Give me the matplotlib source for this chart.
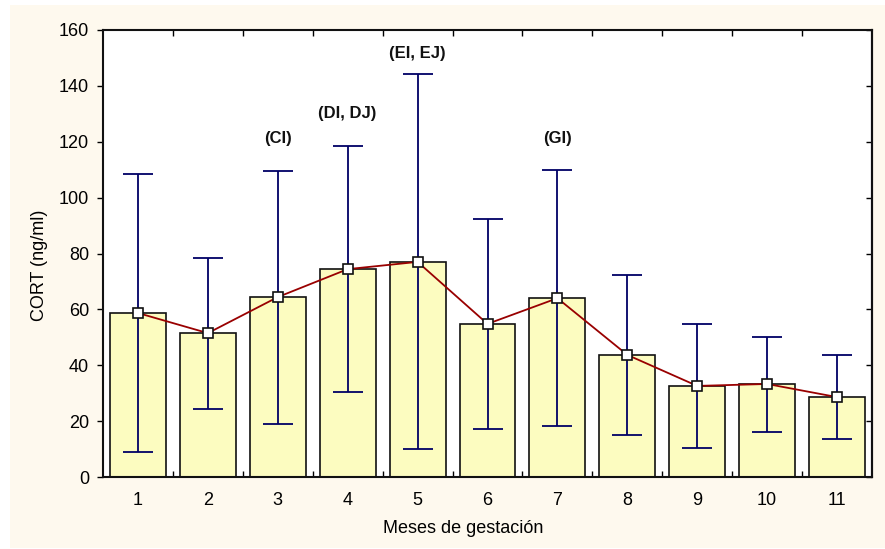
import matplotlib
matplotlib.use("Agg")
import matplotlib.pyplot as plt
from matplotlib.patches import Rectangle

plt.rcParams["font.family"] = ["Liberation Sans", "DejaVu Sans"]

# Meses de gestación y CORT medio con intervalos
meses = [1, 2, 3, 4, 5, 6, 7, 8, 9, 10, 11]
media = [58.7, 51.5, 64.4, 74.4, 77.0, 54.8, 64.0, 43.7, 32.6, 33.3, 28.6]
limite_sup = [108.4, 78.4, 109.5, 118.5, 144.2, 92.3, 109.9, 72.3, 54.8, 50.1, 43.7]
limite_inf = [8.9, 24.3, 19.0, 30.4, 10.0, 17.2, 18.3, 15.0, 10.4, 16.1, 13.6]

# Etiquetas de significancia
etiq_mes = [3, 4, 5, 7]
etiq_txt = ["(CI)", "(DI, DJ)", "(EI, EJ)", "(GI)"]
etiq_y = [121.3, 130.0, 151.7, 121.3]

fig = plt.figure(figsize=(8.85, 5.49), dpi=100, facecolor="white")
fondo = Rectangle((10 / 885, 1 / 549), 875 / 885, 543 / 549,
                  transform=fig.transFigure, facecolor="#fef9ee",
                  edgecolor="none", zorder=-10)
fig.add_artist(fondo)
ax = fig.add_axes([103 / 885, 72 / 549, 769 / 885, 447 / 549])
ax.set_facecolor("white")

ax.bar(meses, media, width=0.8, color="#fcfcc0", edgecolor="#111111",
       linewidth=1.2, zorder=2)

err_inf = [m - l for m, l in zip(media, limite_inf)]
err_sup = [u - m for m, u in zip(media, limite_sup)]
ax.errorbar(meses, media, yerr=[err_inf, err_sup], fmt="none",
            ecolor="#000066", elinewidth=1.3, capsize=10.5, capthick=1.3, zorder=3)

ax.plot(meses, media, color="#990000", linewidth=1.3, marker="s",
        markersize=7.5, markerfacecolor="white", markeredgecolor="#111111",
        markeredgewidth=1.2, zorder=4)

for x, t, y in zip(etiq_mes, etiq_txt, etiq_y):
    ax.text(x, y, t, ha="center", va="center", fontsize=12, fontweight="bold",
            color="#111111")

ax.set_xlim(0.5, 11.5)
ax.set_ylim(0, 160)
ax.set_xticks(meses)
ax.set_xticks([m + 0.5 for m in meses[:-1]], minor=True)
ax.set_yticks(range(0, 161, 20))
ax.tick_params(axis="x", which="major", length=0, labelsize=13, pad=11)
ax.tick_params(axis="x", which="minor", direction="in", length=4,
               top=True, width=1)
ax.tick_params(axis="y", direction="out", length=4, width=1, labelsize=13, pad=6)

sec = ax.secondary_yaxis("right")
sec.set_yticks(range(0, 161, 20))
sec.tick_params(direction="in", length=4, width=1, labelright=False)
sec.spines["right"].set_linewidth(1.5)

for s in ax.spines.values():
    s.set_linewidth(1.5)
    s.set_color("#111111")

ax.set_xlabel("Meses de gestación", fontsize=13, labelpad=8)
ax.set_ylabel("CORT (ng/ml)", fontsize=13, labelpad=8)
ax.xaxis.label.set_x(0.469)
ax.yaxis.label.set_y(0.474)

fig.savefig("out.png", dpi=100, facecolor=fig.get_facecolor())
